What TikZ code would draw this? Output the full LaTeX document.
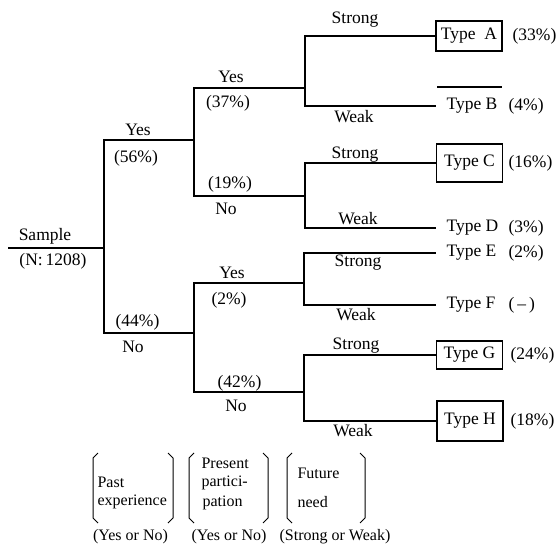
\documentclass[tikz,border=0pt]{standalone}
\usepackage{fontspec}
\setmainfont{Liberation Serif}
\begin{document}
\begin{tikzpicture}[x=1pt,y=-1pt,line width=1.2pt,
  lbl/.style={font=\fontsize{17.5}{20}\selectfont,inner sep=0pt},
  leaf/.style={lbl,anchor=west},
  typebox/.style={draw,line width=1.1pt,minimum width=66pt,inner sep=0pt,
    font=\fontsize{17.5}{20}\selectfont},
  note/.style={font=\fontsize{16}{18}\selectfont,inner sep=0pt,anchor=west},
  axis/.style={font=\fontsize{16}{18}\selectfont,inner sep=0pt},
  brk/.style={line width=1pt}]
\useasboundingbox (0,0) rectangle (560,556);

% junctions of the tree
\coordinate (s0) at (8,248);
\coordinate (j0) at (104,248);
\coordinate (y1) at (194,140);
\coordinate (n1) at (194,333);
\coordinate (yy) at (305,88);
\coordinate (yn) at (305,196);
\coordinate (ny) at (304,283);
\coordinate (nn) at (304,392);

% leaves
\node[typebox,minimum height=30pt] (tA) at (469,36) {Type~~A};
\coordinate (eB) at (436,106);
\node[leaf] (tB) at (446,106) {Type B};
\node[typebox,minimum height=38pt] (tC) at (469.5,163) {Type C};
\coordinate (eD) at (436,228);
\node[leaf] (tD) at (446,228) {Type D};
\coordinate (eE) at (436,253);
\node[leaf] (tE) at (446,253) {Type E};
\coordinate (eF) at (436,305);
\node[leaf] (tF) at (446,305) {Type F};
\node[typebox,minimum height=28pt] (tG) at (469.5,355) {Type G};
\node[typebox,minimum height=40pt] (tH) at (470,421) {Type H};

% shares
\node[leaf] (pA) at (512,36) {(33\%)};
\node[leaf] (pB) at (508,106) {(4\%)};
\node[leaf] (pC) at (508,163) {(16\%)};
\node[leaf] (pD) at (508,228) {(3\%)};
\node[leaf] (pE) at (508,253) {(2\%)};
\node[leaf] (pF) at (508,305) {(\,--\,)};
\node[leaf] (pG) at (510,355) {(24\%)};
\node[leaf] (pH) at (510,421) {(18\%)};

% branches
\draw (s0) -- (j0);
\draw (j0) |- (y1);
\draw (j0) |- (n1);
\draw (y1) |- (yy);
\draw (y1) |- (yn);
\draw (n1) |- (ny);
\draw (n1) |- (nn);
\draw (yy) |- (tA.west);
\draw (yy) |- (eB);
\draw (yn) |- (tC.west);
\draw (yn) |- (eD);
\draw (ny) |- (eE);
\draw (ny) |- (eF);
\draw (nn) |- (tG.west);
\draw (nn) |- (tH.west);

% rule over Type B
\draw (437,87) -- (502,87);

% branch labels
\node[lbl] (ls) at (45,236) {Sample};
\node[lbl] (lN) at (53,261) {(N:\,1208)};
\node[lbl] (l1y) at (138,130) {Yes};
\node[lbl] (l1yp) at (136,158) {(56\%)};
\node[lbl] (l1np) at (137.5,322) {(44\%)};
\node[lbl] (l1n) at (133,347) {No};
\node[lbl] (l2y) at (231,77) {Yes};
\node[lbl] (l2yp) at (228,103) {(37\%)};
\node[lbl] (l2np) at (230,184) {(19\%)};
\node[lbl] (l2n) at (226,209) {No};
\node[lbl] (l3y) at (232,273) {Yes};
\node[lbl] (l3yp) at (229,300) {(2\%)};
\node[lbl] (l3np) at (239.5,383) {(42\%)};
\node[lbl] (l3n) at (236,406) {No};
\node[lbl] (lsA) at (355,20) {Strong};
\node[lbl] (lwB) at (354,117) {Weak};
\node[lbl] (lsC) at (355,155) {Strong};
\node[lbl] (lwD) at (358,219) {Weak};
\node[lbl] (lsE) at (358,263) {Strong};
\node[lbl] (lwF) at (356,315) {Weak};
\node[lbl] (lsG) at (356,346) {Strong};
\node[lbl] (lwH) at (353,431) {Weak};

% brackets of the legend
\foreach \l/\r in {93/173,189/268,287/365}{
  \draw[brk] (\l+5,453) -- (\l,458) -- (\l,518) -- (\l+5,523);
  \draw[brk] (\r-5,453) -- (\r,458) -- (\r,518) -- (\r-5,523);
}
\node[note] (k1a) at (97,482) {Past};
\node[note] (k1b) at (97,502) {experience};
\node[note] (k2a) at (201,463) {Present};
\node[note] (k2b) at (201,483) {partici-};
\node[note] (k2c) at (202,503) {pation};
\node[note] (k3a) at (297,473) {Future};
\node[note] (k3b) at (297,502) {need};
\node[axis] (a1) at (130.5,537) {(Yes or No)};
\node[axis] (a2) at (229,537) {(Yes or No)};
\node[axis] (a3) at (335,537) {(Strong or Weak)};
\end{tikzpicture}
\end{document}
